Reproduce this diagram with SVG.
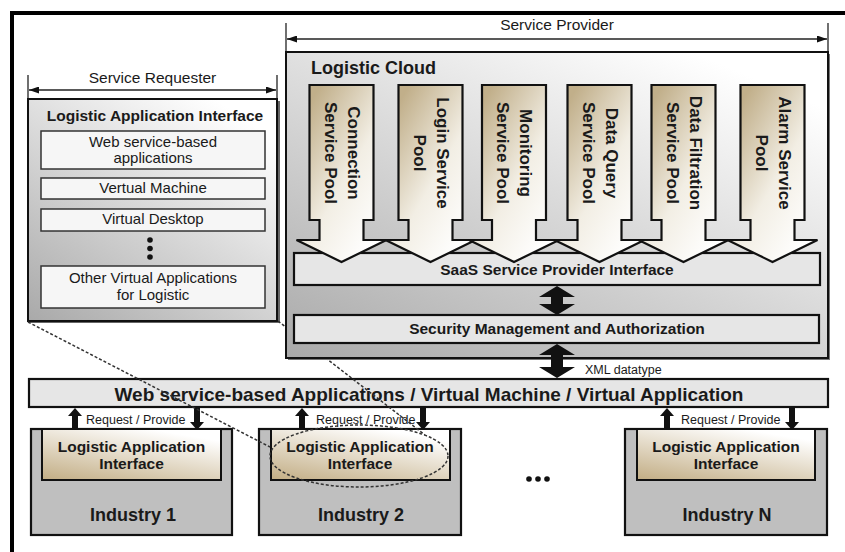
<svg xmlns="http://www.w3.org/2000/svg" width="845" height="552" viewBox="0 0 845 552">
<defs>
<style>
text{font-family:"Liberation Sans",Arial,sans-serif;fill:#1a1a1a}
.b{font-weight:bold}
.box{stroke:#111;stroke-width:2}
.thin{fill:#f6f6f6;stroke:#333;stroke-width:1.5}
.gbar{fill:#e6e6e6;stroke:#111;stroke-width:2.2}
.pool{fill:url(#gPool);stroke:#111;stroke-width:2.2;stroke-linejoin:miter}
.dim{stroke:#222;stroke-width:1.3;fill:none}
.tick{stroke:#222;stroke-width:1.3}
.blk{fill:#111}
.dot{fill:none;stroke:#333;stroke-width:1.5;stroke-dasharray:3 2}
.ind{fill:#bfbfbf;stroke:#111;stroke-width:2.2}
.inr{fill:url(#gTan);stroke:#111;stroke-width:2}
</style>
<linearGradient id="gGray" x1="0" y1="1" x2="0.75" y2="0">
<stop offset="0" stop-color="#a9a9a9"/><stop offset="1" stop-color="#ffffff"/>
</linearGradient>
<linearGradient id="gPool" x1="0.15" y1="0.1" x2="0.85" y2="0.9">
<stop offset="0" stop-color="#c1af8a"/><stop offset="0.55" stop-color="#f2eee4"/><stop offset="1" stop-color="#ffffff"/>
</linearGradient>
<linearGradient id="gTan" x1="0" y1="1" x2="0.6" y2="0">
<stop offset="0" stop-color="#c2ad84"/><stop offset="1" stop-color="#ffffff"/>
</linearGradient>
<linearGradient id="gInner" x1="0" y1="1" x2="0" y2="0">
<stop offset="0" stop-color="#ececec"/><stop offset="1" stop-color="#fbfbfb"/>
</linearGradient>
<marker id="ah" viewBox="0 0 10 7" refX="10" refY="3.5" markerWidth="10" markerHeight="7" markerUnits="userSpaceOnUse" orient="auto-start-reverse">
<path d="M0,0 L10,3.5 L0,7 z" fill="#111"/>
</marker>
</defs>

<rect width="845" height="552" fill="#ffffff"/>
<path d="M12,552 V13 H845" fill="none" stroke="#000" stroke-width="4"/>

<g id="service-requester">
<line class="tick" x1="28" y1="75" x2="28" y2="99"/>
<line class="tick" x1="277" y1="75" x2="277" y2="99"/>
<line class="dim" x1="29" y1="90" x2="276" y2="90" marker-start="url(#ah)" marker-end="url(#ah)"/>
<text x="152.5" y="83" font-size="15.5" text-anchor="middle">Service Requester</text>
</g>

<g id="service-provider">
<line class="tick" x1="286" y1="23" x2="286" y2="52"/>
<line class="tick" x1="828" y1="23" x2="828" y2="52"/>
<line class="dim" x1="287" y1="39" x2="827" y2="39" marker-start="url(#ah)" marker-end="url(#ah)"/>
<text x="557" y="30" font-size="15.5" text-anchor="middle">Service Provider</text>
</g>

<g id="requester-interface">
<rect x="30" y="101" width="250" height="222" fill="#666"/>
<rect class="box" x="28" y="99" width="249" height="222" fill="url(#gGray)"/>
<text class="b" x="155" y="121" font-size="15.5" text-anchor="middle">Logistic Application Interface</text>
<rect class="thin" x="41" y="131" width="224" height="38" fill="url(#gInner)"/>
<text x="153" y="147" font-size="15" text-anchor="middle">Web service-based</text>
<text x="153" y="163" font-size="15" text-anchor="middle">applications</text>
<rect class="thin" x="41" y="178" width="224" height="21"/>
<text x="153" y="193" font-size="15" text-anchor="middle">Vertual Machine</text>
<rect class="thin" x="41" y="209" width="224" height="22"/>
<text x="153" y="224" font-size="15" text-anchor="middle">Virtual Desktop</text>
<circle class="blk" cx="150" cy="240" r="2.8"/>
<circle class="blk" cx="150" cy="248.5" r="2.8"/>
<circle class="blk" cx="150" cy="257" r="2.8"/>
<rect class="thin" x="41" y="266" width="224" height="42"/>
<text x="153" y="283" font-size="15" text-anchor="middle">Other Virtual Applications</text>
<text x="153" y="300" font-size="15" text-anchor="middle">for Logistic</text>
</g>

<g id="web-band">
<rect class="gbar" x="29" y="379" width="799" height="28" fill="#e8e8e8"/>
<text class="b" x="429" y="401" font-size="19" text-anchor="middle">Web service-based Applications / Virtual Machine / Virtual Application</text>
</g>

<g id="industry-1">
<rect class="ind" x="31" y="429" width="201" height="106"/>
<rect class="inr" x="42" y="429" width="179" height="51"/>
<text class="b" x="131.5" y="452" font-size="15.5" text-anchor="middle">Logistic Application</text>
<text class="b" x="131.5" y="469" font-size="15.5" text-anchor="middle">Interface</text>
<text class="b" x="133" y="521" font-size="18" text-anchor="middle">Industry 1</text>
</g>
<g id="industry-2">
<rect class="ind" x="259" y="429" width="202" height="106"/>
<rect class="inr" x="271" y="429" width="179" height="51"/>
<text class="b" x="360" y="452" font-size="15.5" text-anchor="middle">Logistic Application</text>
<text class="b" x="360" y="469" font-size="15.5" text-anchor="middle">Interface</text>
<text class="b" x="361" y="521" font-size="18" text-anchor="middle">Industry 2</text>
</g>
<g id="industry-n">
<rect class="ind" x="625" y="429" width="202" height="106"/>
<rect class="inr" x="637" y="429" width="178" height="51"/>
<text class="b" x="726" y="452" font-size="15.5" text-anchor="middle">Logistic Application</text>
<text class="b" x="726" y="469" font-size="15.5" text-anchor="middle">Interface</text>
<text class="b" x="727" y="521" font-size="18" text-anchor="middle">Industry N</text>
</g>
<g id="ellipsis">
<circle class="blk" cx="529" cy="479" r="2.8"/>
<circle class="blk" cx="538" cy="479" r="2.8"/>
<circle class="blk" cx="547" cy="479" r="2.8"/>
</g>

<g id="connectors">
<path class="blk" d="M75,408 L82,416 L78,416 L78,429 L72,429 L72,416 L68,416 Z"/>
<path class="blk" d="M197,430 L204,422 L200,422 L200,408 L194,408 L194,422 L190,422 Z"/>
<text x="86" y="424" font-size="12.5">Request / Provide</text>
<path class="blk" d="M302,408 L309,416 L305,416 L305,429 L299,429 L299,416 L295,416 Z"/>
<path class="blk" d="M423,430 L430,422 L426,422 L426,408 L420,408 L420,422 L416,422 Z"/>
<text x="316" y="424" font-size="12.5">Request / Provide</text>
<path class="blk" d="M667,408 L674,416 L670,416 L670,429 L664,429 L664,416 L660,416 Z"/>
<path class="blk" d="M792,430 L799,422 L795,422 L795,408 L789,408 L789,422 L785,422 Z"/>
<text x="681" y="424" font-size="12.5">Request / Provide</text>
<ellipse class="dot" cx="359" cy="456" rx="89" ry="31"/>
<line class="dot" x1="28" y1="322" x2="270" y2="447"/>
<line class="dot" x1="278" y1="321" x2="425" y2="435"/>
</g>

<g id="logistic-cloud">
<rect x="288" y="54" width="542" height="306" fill="#777"/>
<rect class="box" x="286" y="52" width="542" height="306" fill="url(#gGray)"/>
<text class="b" x="311" y="74" font-size="18">Logistic Cloud</text>
</g>
<g id="saas-interface">
<rect class="gbar" x="294" y="253" width="526" height="32"/>
<text class="b" x="557" y="275" font-size="15.5" text-anchor="middle">SaaS Service Provider Interface</text>
</g>
<g id="security">
<rect class="gbar" x="294" y="315" width="525" height="28"/>
<text class="b" x="557" y="334" font-size="15.5" text-anchor="middle">Security Management and Authorization</text>
</g>
<g id="cloud-arrows">
<path class="blk" d="M557,286 L575,297 L563,297 L563,304 L575,304 L557,315 L539,304 L551,304 L551,297 L539,297 Z"/>
<path class="blk" d="M557,344 L575,355 L563,355 L563,367 L575,367 L557,378 L539,367 L551,367 L551,355 L539,355 Z"/>
<text x="585" y="374" font-size="12.5">XML datatype</text>
</g>

<g id="pool-connection">
<path class="pool" d="M309.5,85 H373.5 V220 H363.5 V240 H386.5 L341.5,262 L296.5,240 H319.5 V220 H309.5 Z"/>
<g transform="translate(341.5,153) rotate(90)"><text class="b" y="-6" font-size="17" text-anchor="middle">Connection</text><text class="b" y="17" font-size="17" text-anchor="middle">Service Pool</text></g>
</g>
<g id="pool-login">
<path class="pool" d="M398.5,85 H462.5 V220 H452.5 V240 H475.5 L430.5,262 L385.5,240 H408.5 V220 H398.5 Z"/>
<g transform="translate(430.5,153) rotate(90)"><text class="b" y="-6" font-size="17" text-anchor="middle">Login Service</text><text class="b" y="17" font-size="17" text-anchor="middle">Pool</text></g>
</g>
<g id="pool-monitoring">
<path class="pool" d="M482,85 H546 V220 H536 V240 H559 L514,262 L469,240 H492 V220 H482 Z"/>
<g transform="translate(514,153) rotate(90)"><text class="b" y="-6" font-size="17" text-anchor="middle">Monitoring</text><text class="b" y="17" font-size="17" text-anchor="middle">Service Pool</text></g>
</g>
<g id="pool-dataquery">
<path class="pool" d="M567.5,85 H631.5 V220 H621.5 V240 H644.5 L599.5,262 L554.5,240 H577.5 V220 H567.5 Z"/>
<g transform="translate(599.5,153) rotate(90)"><text class="b" y="-6" font-size="17" text-anchor="middle">Data Query</text><text class="b" y="17" font-size="17" text-anchor="middle">Service Pool</text></g>
</g>
<g id="pool-filtration">
<path class="pool" d="M651.5,85 H715.5 V220 H705.5 V240 H728.5 L683.5,262 L638.5,240 H661.5 V220 H651.5 Z"/>
<g transform="translate(683.5,153) rotate(90)"><text class="b" y="-6" font-size="17" text-anchor="middle">Data Filtration</text><text class="b" y="17" font-size="17" text-anchor="middle">Service Pool</text></g>
</g>
<g id="pool-alarm">
<path class="pool" d="M740.5,85 H804.5 V220 H794.5 V240 H817.5 L772.5,262 L727.5,240 H750.5 V220 H740.5 Z"/>
<g transform="translate(772.5,153) rotate(90)"><text class="b" y="-6" font-size="17" text-anchor="middle">Alarm Service</text><text class="b" y="17" font-size="17" text-anchor="middle">Pool</text></g>
</g>
</svg>
